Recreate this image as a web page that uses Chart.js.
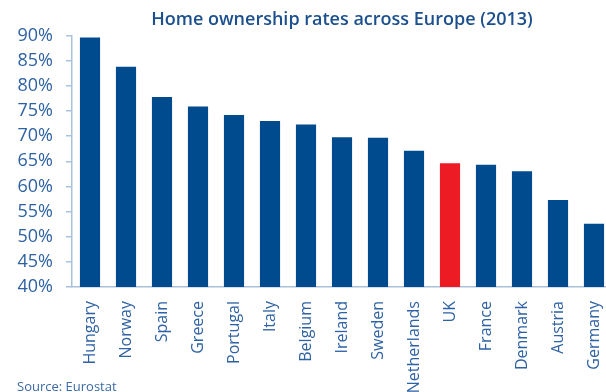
<!DOCTYPE html>
<html>
<head>
<meta charset="utf-8">
<script src="https://cdn.jsdelivr.net/npm/chart.js@4"></script>
<style>
  html, body { margin: 0; padding: 0; background: #fff; overflow: hidden; }
  #wrap { width: 612px; height: 392px; position: relative; }
</style>
</head>
<body>
<div id="wrap"><canvas id="ownershipChart" width="612" height="392"></canvas></div>
<script>
const countries = ['Hungary', 'Norway', 'Spain', 'Greece', 'Portugal', 'Italy', 'Belgium', 'Ireland', 'Sweden', 'Netherlands', 'UK', 'France', 'Denmark', 'Austria', 'Germany'];
const ownershipRates = [89.6, 83.8, 77.8, 75.9, 74.2, 73.0, 72.3, 69.8, 69.7, 67.1, 64.6, 64.3, 63.0, 57.3, 52.6];
const highlightCountry = 'UK';
const yTicks = [40, 45, 50, 55, 60, 65, 70, 75, 80, 85, 90];

const BLUE = '#004b8d';
const RED = '#ed1c24';
const AXIS = '#a9c2de';
const TEXT = '#2e62a4';
const FONT = '"Open Sans", sans-serif';

// source note in the bottom left corner
const sourcePlugin = {
  id: 'sourceNote',
  afterDraw(chart){
    const ctx = chart.ctx;
    ctx.save();
    ctx.font = '13px ' + FONT;
    ctx.fillStyle = '#3b6aa6';
    ctx.textAlign = 'left';
    ctx.textBaseline = 'alphabetic';
    ctx.fillText('Source: Eurostat', 17, 391);
    ctx.restore();
  }
};

const ctx = document.getElementById('ownershipChart').getContext('2d');
new Chart(ctx, {
  type: 'bar',
  data: {
    labels: countries,
    datasets: [{
      data: ownershipRates,
      backgroundColor: countries.map(c => c === highlightCountry ? RED : BLUE),
      borderWidth: 0,
      barPercentage: 0.56,
      categoryPercentage: 1
    }]
  },
  options: {
    responsive: false,
    animation: false,
    layout: { padding: { left: 0, right: 0, top: 0, bottom: 0 } },
    plugins: {
      legend: { display: false },
      tooltip: { enabled: false },
      title: {
        display: true,
        fullSize: false,
        text: 'Home ownership rates across Europe (2013)',
        color: '#1b4f8e',
        font: { family: FONT, size: 18, weight: '600' },
        padding: { top: 9, bottom: 5 }
      }
    },
    scales: {
      x: {
        grid: { display: false, drawOnChartArea: false, drawTicks: false },
        border: { display: true, color: AXIS, width: 1.5 },
        ticks: {
          color: TEXT,
          font: { family: FONT, size: 16 },
          minRotation: 90,
          maxRotation: 90,
          autoSkip: false,
          padding: 14
        },
        afterFit(scale){
          scale.height = 105;
          scale.paddingLeft = 0;
          scale.paddingRight = 0;
        }
      },
      y: {
        min: 40,
        max: 90,
        afterBuildTicks(scale){ scale.ticks = yTicks.map(v => ({ value: v })); },
        grid: { drawOnChartArea: false, drawTicks: true, tickLength: 6, color: AXIS, lineWidth: 1.5 },
        border: { display: true, color: AXIS, width: 1.5 },
        ticks: {
          color: TEXT,
          font: { family: FONT, size: 18 },
          padding: 13,
          callback: v => v + '%'
        },
        afterFit(scale){ scale.width = 72; }
      }
    }
  },
  plugins: [sourcePlugin]
});
</script>
</body>
</html>
